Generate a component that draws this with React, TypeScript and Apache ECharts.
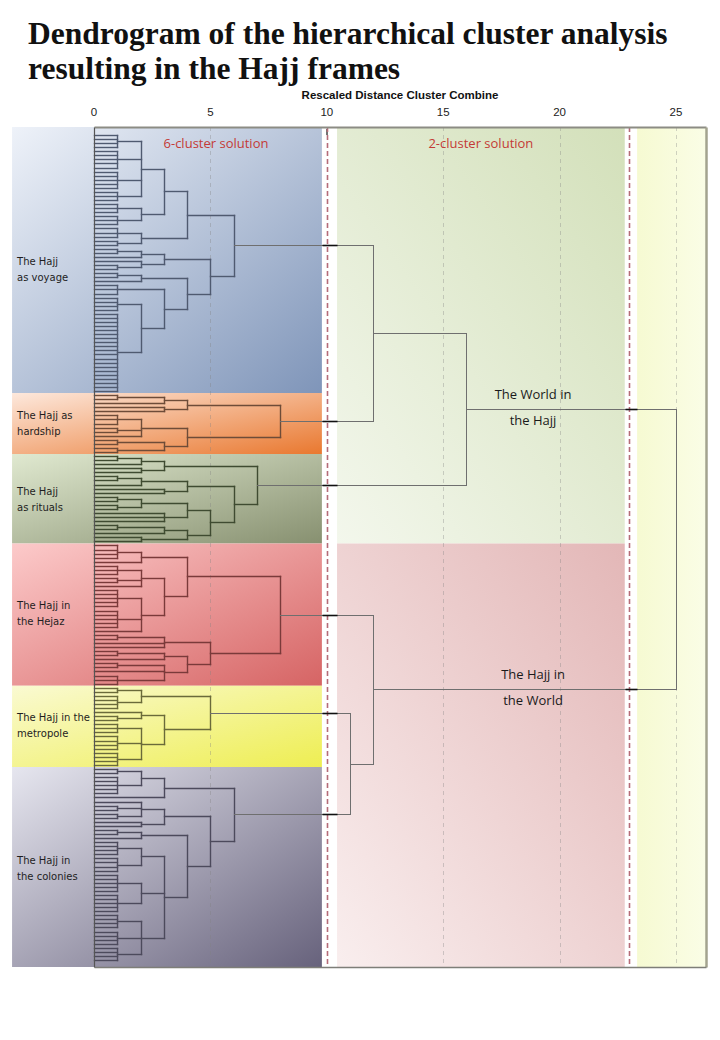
import React, { useEffect, useRef } from "react";
import * as echarts from "echarts";

// ---------------- data ----------------
const TITLE = "Dendrogram of the hierarchical cluster analysis\nresulting in the Hajj frames";
const AXIS_NAME = "Rescaled Distance Cluster Combine";
const TICKS = [0, 5, 10, 15, 20, 25];
const CUT_LINES = [10, 23];
const SOLUTION_LABELS = ["6-cluster solution", "2-cluster solution"];

const FRAME_KEYS = ["voyage", "hardship", "rituals", "hejaz", "metropole", "colonies"];
const FRAME_LABELS = [
  "The Hajj\nas voyage",
  "The Hajj as\nhardship",
  "The Hajj\nas rituals",
  "The Hajj in\nthe Hejaz",
  "The Hajj in the\nmetropole",
  "The Hajj in\nthe colonies",
];

// A number n = a bundle of n cases fused at distance 1 (1 = a single case);
// an array = [fusion distance, ...sub-clusters]
const VOYAGE_TREE = [6,
  [4, [3, [2, 4, 5, 5, 3], [2, 3, 3]], [2, 3, 2]],
  [5, [3, [2, 2, 1], [2, 1, 2]], [4, [2, 2, 1], [3, 3, [2, 4, 20]]]]];
const HARDSHIP_TREE = [8, [4, [3, 2, 1], [3, 1, 1]], [4, [2, 3, 2, 1], [3, 2, 2]]];
const RITUALS_TREE = [7,
  [3, [2, 2, 1], [2, 1, 1]],
  [6, [4, [2, 2, 1], [3, 1, 1]], [5, [4, [2, 2, 2], [3, 1, 1, 1]], [4, [3, 2, 1], [2, 1, 1]]]]];
const HEJAZ_TREE = [8,
  [4, [2, 4, 1], [3, [2, 3, 2, 1], [2, 5, 5, 1]]],
  [5, [3, 2, 1, 1], [4, [3, 2, 1], [3, 2, 1, 3]]]];
const METROPOLE_TREE = [5, [2, 2, 4], [3, [2, 1, 2], [2, 3, 4, 4]]];
const COLONIES_TREE = [6,
  [3, [2, 2, 5], 1],
  [5, [3, [2, 1, 2, 2], [2, 1, 1]], [4, [2, 2, 1], [3, [2, 4, 4], [2, 5, 5], [2, 4, 4, 4]]]]];
const FRAME_TREES = [VOYAGE_TREE, HARDSHIP_TREE, RITUALS_TREE, HEJAZ_TREE, METROPOLE_TREE, COLONIES_TREE];

const TOP_TREE = [25, [16, [12, "voyage", "hardship"], "rituals"], [12, "hejaz", [11, "metropole", "colonies"]]];
const CLUSTER_LABELS = [["The World in", "the Hajj"], ["The Hajj in", "the World"]];

// ---------------- style / layout constants ----------------
const X_MAX = 26.29;
const Y_PAD_TOP = 1.97;
const Y_PAD_BOTTOM = 1.72;
const LEFT_BAND = [-3.52, 9.79];
const RIGHT_BAND = [10.44, 22.8];
const FAR_BAND = [23.33, X_MAX];
const GAPS = [[LEFT_BAND[1], RIGHT_BAND[0]], [RIGHT_BAND[1], FAR_BAND[0]]];
const CLUSTER_LABEL_X = 18.86;
const SOLUTION_LABEL_X = [5.24, 16.62];
const LABEL_DY = [9, 0, 1, -1, -1, 2];

const BAND_GRADIENTS = [
  ["#eef2f9", "#7f95b9"],
  ["#fde8dc", "#e9782f"],
  ["#e0e9d0", "#879070"],
  ["#fccaca", "#d66464"],
  ["#fafad2", "#eeee52"],
  ["#e6e6ef", "#67627c"],
];
const LINE_COLORS = ["#4f5a70", "#6e4c38", "#3f4b31", "#7a3a3a", "#6a6a3a", "#4c4a5c", "#6f6f6f", "#111111"];
const TOP_COLOR = 6;
const STUB_COLOR = 7;

// ---------------- layout of the dendrogram ----------------
type Seg = [number, number, number, number, number];
const SEGMENTS: Seg[] = [];
const cursor = { i: 0 };

function layoutTree(node: any, color: number): { y: number; h: number } {
  if (typeof node === "number") {
    if (node === 1) {
      const y = cursor.i++;
      return { y, h: 0 };
    }
    const y0 = cursor.i;
    for (let k = 0; k < node; k++) {
      const y = cursor.i++;
      SEGMENTS.push([0, y, 1, y, color]);
    }
    const y1 = cursor.i - 1;
    SEGMENTS.push([1, y0, 1, y1, color]);
    return { y: (y0 + y1) / 2, h: 1 };
  }
  const [h, ...kids] = node;
  const rs = kids.map((k: any) => layoutTree(k, color));
  rs.forEach((r: any) => SEGMENTS.push([r.h, r.y, h, r.y, color]));
  SEGMENTS.push([h, rs[0].y, h, rs[rs.length - 1].y, color]);
  return { y: (rs[0].y + rs[rs.length - 1].y) / 2, h };
}

const FRAME_RANGES: [number, number][] = [];
const ROOTS: Record<string, { y: number; h: number }> = {};
FRAME_TREES.forEach((t, i) => {
  const start = cursor.i;
  ROOTS[FRAME_KEYS[i]] = layoutTree(t, i);
  FRAME_RANGES.push([start, cursor.i - 1]);
});
const N = cursor.i;
const Y_MIN = -Y_PAD_TOP;
const Y_MAX = N - 1 + Y_PAD_BOTTOM;

function layoutTop(node: any): { y: number; h: number; kids?: any[] } {
  if (typeof node === "string") return ROOTS[node];
  const [h, ...kids] = node;
  const rs = kids.map((k: any) => layoutTop(k));
  rs.forEach((r: any) => {
    SEGMENTS.push([r.h, r.y, h, r.y, TOP_COLOR]);
    GAPS.forEach(([g0, g1]) => {
      if (r.h <= g0 && h >= g1) SEGMENTS.push([g0, r.y, g1, r.y, STUB_COLOR]);
    });
  });
  SEGMENTS.push([h, rs[0].y, h, rs[rs.length - 1].y, TOP_COLOR]);
  return { y: (rs[0].y + rs[rs.length - 1].y) / 2, h, kids: rs };
}
const TOP_ROOT = layoutTop(TOP_TREE);

const bandData = FRAME_RANGES.map(([a, b], i) => [
  i === 0 ? Y_MIN : a - 0.5,
  i === FRAME_RANGES.length - 1 ? Y_MAX : b + 0.5,
  i,
]);
const splitY = FRAME_RANGES[2][1] + 0.5;
const regionData = [
  [Y_MIN, splitY, 0],
  [splitY, Y_MAX, 1],
  [Y_MIN, Y_MAX, 2],
];
const guideData = [
  ...TICKS.filter((t) => t !== 0 && !CUT_LINES.includes(t)).map((t) => [t, 0]),
  ...CUT_LINES.map((t) => [t, 1]),
];
const clusterLabelData = (TOP_ROOT.kids || []).map((k: any, i: number) => [CLUSTER_LABEL_X, k.y, i]);
const solutionData = SOLUTION_LABEL_X.map((x, i) => [x, Y_MIN, i]);
const borderData = [
  [0, Y_MIN, X_MAX, Y_MIN, 0],
  [X_MAX, Y_MIN, X_MAX, Y_MAX, 1],
  [0, Y_MAX, X_MAX, Y_MAX, 2],
  [0, Y_MIN, 0, Y_MAX, 3],
];

const crisp = (v: number) => Math.round(v) + 0.5;

export default function App() {
  const ref = useRef<HTMLDivElement>(null);
  useEffect(() => {
    document.body.style.margin = "0";
    if (!ref.current) return;
    const chart = echarts.init(ref.current, undefined, { renderer: "svg" });
    const textBase = { verticalAlign: "middle", textVerticalAlign: "middle" };
    chart.setOption({
      animation: false,
      backgroundColor: "#ffffff",
      grid: { left: 94, right: 14, top: 127, bottom: 73, show: false },
      xAxis: {
        type: "value",
        position: "top",
        min: 0,
        max: X_MAX,
        interval: 5,
        axisLine: { show: false },
        axisTick: { show: true, length: 6, lineStyle: { color: "#444", width: 1.5 }, customValues: TICKS },
        axisLabel: {
          customValues: TICKS,
          color: "#222",
          fontFamily: "Liberation Sans",
          fontSize: 11.5,
          margin: 9,
        },
        splitLine: { show: false },
        name: AXIS_NAME,
        nameLocation: "middle",
        nameGap: 24,
        nameTextStyle: { fontWeight: "bold", fontSize: 11.5, fontFamily: "Liberation Sans", color: "#111" },
      },
      yAxis: { type: "value", inverse: true, min: Y_MIN, max: Y_MAX, show: false },
      graphic: [
        {
          type: "text",
          left: 28,
          top: 16,
          style: { text: TITLE, font: 'bold 31.5px "Liberation Serif"', fill: "#111", lineHeight: 35 },
        },
      ],
      series: [
        {
          type: "custom",
          z: 1,
          silent: true,
          data: bandData,
          renderItem: (params: any, api: any) => {
            const i = api.value(2);
            const p0 = api.coord([LEFT_BAND[0], api.value(0)]);
            const p1 = api.coord([LEFT_BAND[1], api.value(1)]);
            const [c0, c1] = BAND_GRADIENTS[i];
            return {
              type: "group",
              children: [
                {
                  type: "rect",
                  shape: { x: p0[0], y: p0[1], width: p1[0] - p0[0], height: p1[1] - p0[1] },
                  style: {
                    fill: new echarts.graphic.LinearGradient(0, 0, 1, 1, [
                      { offset: 0, color: c0 },
                      { offset: 1, color: c1 },
                    ]),
                  },
                },
                {
                  type: "text",
                  x: p0[0] + 5,
                  y: (p0[1] + p1[1]) / 2 + LABEL_DY[i],
                  style: {
                    ...textBase,
                    text: FRAME_LABELS[i],
                    fill: "#1e1e1e",
                    font: '10px "DejaVu Sans"',
                    lineHeight: 16,
                    align: "left",
                    textAlign: "left",
                  },
                },
              ],
            };
          },
        },
        {
          type: "custom",
          z: 1,
          silent: true,
          data: regionData,
          renderItem: (params: any, api: any) => {
            const k = api.value(2);
            const band = k === 2 ? FAR_BAND : RIGHT_BAND;
            const p0 = api.coord([band[0], api.value(0)]);
            const p1 = api.coord([band[1], api.value(1)]);
            const fills = [
              ["#f3f7ec", "#d3e0ba"],
              ["#f9eeee", "#e3b7b7"],
              ["#f6fad2", "#fafde6"],
            ][k];
            const grad =
              k === 2
                ? new echarts.graphic.LinearGradient(0, 0, 1, 0, [
                    { offset: 0, color: fills[0] },
                    { offset: 1, color: fills[1] },
                  ])
                : new echarts.graphic.LinearGradient(0, 1, 1, 0, [
                    { offset: 0, color: fills[0] },
                    { offset: 1, color: fills[1] },
                  ]);
            return {
              type: "rect",
              shape: { x: p0[0], y: p0[1], width: p1[0] - p0[0], height: p1[1] - p0[1] },
              style: { fill: grad },
            };
          },
        },
        {
          type: "custom",
          z: 2,
          silent: true,
          data: guideData,
          renderItem: (params: any, api: any) => {
            const kind = api.value(1);
            const p0 = api.coord([api.value(0), Y_MIN]);
            const p1 = api.coord([api.value(0), Y_MAX]);
            return {
              type: "line",
              shape: { x1: crisp(p0[0]), y1: p0[1], x2: crisp(p1[0]), y2: p1[1] },
              style:
                kind === 1
                  ? { stroke: "#b56c78", lineWidth: 1.6, lineDash: [5, 3] }
                  : { stroke: "rgba(130,130,130,0.35)", lineWidth: 1, lineDash: [4, 4] },
            };
          },
        },
        {
          type: "custom",
          z: 3,
          silent: true,
          data: SEGMENTS,
          renderItem: (params: any, api: any) => {
            const c = api.value(4);
            const p1 = api.coord([api.value(0), api.value(1)]);
            const p2 = api.coord([api.value(2), api.value(3)]);
            return {
              type: "line",
              shape: { x1: crisp(p1[0]), y1: crisp(p1[1]), x2: crisp(p2[0]), y2: crisp(p2[1]) },
              style: {
                stroke: LINE_COLORS[c],
                lineWidth: c === STUB_COLOR ? 1.6 : c === TOP_COLOR ? 1 : 1.4,
                lineCap: c === STUB_COLOR ? "butt" : "square",
              },
            };
          },
        },
        {
          type: "custom",
          z: 4,
          silent: true,
          data: borderData,
          renderItem: (params: any, api: any) => {
            const k = api.value(4);
            const p1 = api.coord([api.value(0), api.value(1)]);
            const p2 = api.coord([api.value(2), api.value(3)]);
            const styles = [
              { stroke: "#8c8c84", lineWidth: 2 },
              { stroke: "#a3a38f", lineWidth: 2.5 },
              { stroke: "#7e7e78", lineWidth: 1.5 },
              { stroke: "#555555", lineWidth: 1.2 },
            ];
            return {
              type: "line",
              shape: { x1: crisp(p1[0]), y1: crisp(p1[1]), x2: crisp(p2[0]), y2: crisp(p2[1]) },
              style: styles[k],
            };
          },
        },
        {
          type: "custom",
          z: 5,
          silent: true,
          data: clusterLabelData,
          renderItem: (params: any, api: any) => {
            const i = api.value(2);
            const p = api.coord([api.value(0), api.value(1)]);
            const [l1, l2] = CLUSTER_LABELS[i];
            const st = { ...textBase, fill: "#1a1a1a", font: '13px "Open Sans"', align: "center", textAlign: "center" };
            return {
              type: "group",
              children: [
                { type: "text", x: p[0], y: p[1] - 15, style: { ...st, text: l1 } },
                { type: "text", x: p[0], y: p[1] + 11, style: { ...st, text: l2 } },
              ],
            };
          },
        },
        {
          type: "custom",
          z: 5,
          silent: true,
          data: solutionData,
          renderItem: (params: any, api: any) => {
            const i = api.value(2);
            const p = api.coord([api.value(0), api.value(1)]);
            return {
              type: "text",
              x: p[0],
              y: p[1] + 16,
              style: {
                ...textBase,
                text: SOLUTION_LABELS[i],
                fill: "#c43a36",
                font: '13px "Open Sans"',
                align: "center",
                textAlign: "center",
              },
            };
          },
        },
      ],
    });
    return () => chart.dispose();
  }, []);
  return <div ref={ref} style={{ width: 720, height: 1040 }} />;
}
